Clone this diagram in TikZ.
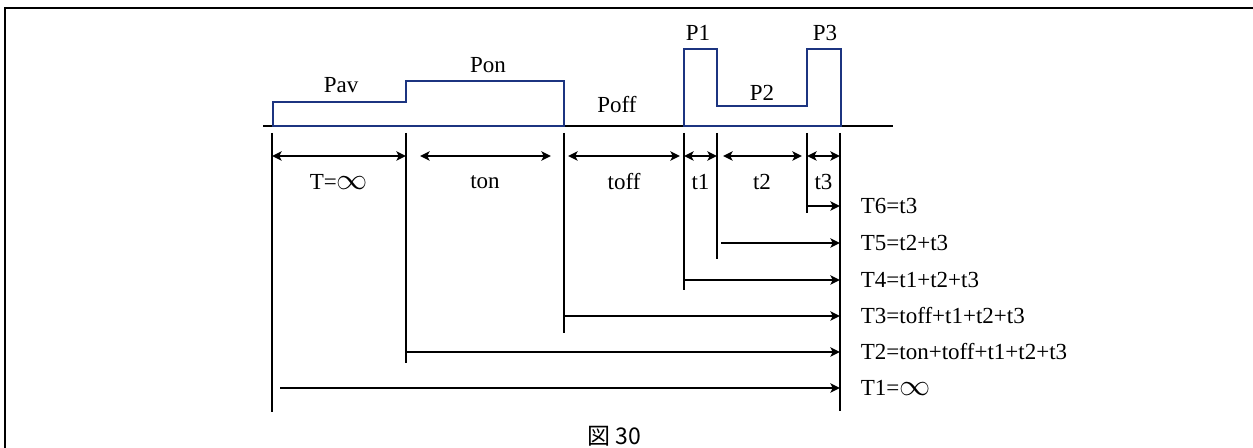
\documentclass[tikz,border=0pt]{standalone}
\usepackage{fontspec}
\usepackage{graphicx}
\setmainfont{Liberation Serif}
\newfontfamily\cjk{Noto Sans CJK JP}
\usetikzlibrary{arrows.meta}
\definecolor{pulseblue}{RGB}{28,52,128}
\newcommand\infsym{\scalebox{1.3}[1.25]{$\infty$}}

\begin{document}
\begin{tikzpicture}[x=0.5pt, y=-0.5pt,
	line/.style = {line width=0.9pt},
	pulse/.style = {draw=pulseblue, line width=1.3pt, line join=miter},
	dim/.style = {line width=0.9pt, {Stealth[length=4.8pt,width=4.6pt,inset=1.2pt]}-{Stealth[length=4.8pt,width=4.6pt,inset=1.2pt]}},
	span/.style = {line width=0.9pt, -{Stealth[length=4.8pt,width=4.6pt,inset=1.2pt]}},
	lbl/.style = {font=\fontsize{11.5}{13}\selectfont, inner sep=0pt},
	tag/.style = {lbl, anchor=west}]
	\useasboundingbox (0,0) rectangle (1253,448);
	\draw[line width=1.1pt] (5,448) -- (5,8) -- (1253,8);

	\draw[line] (263,126) -- (893,126);
	\draw[pulse] (273,126) -- (273,102) -- (406,102) -- (406,81) -- (564,81) -- (564,126) -- cycle;
	\draw[pulse] (684,126) -- (684,49) -- (717,49) -- (717,106) -- (807,106) -- (807,49) -- (841,49) -- (841,126) -- cycle;

	\node[lbl] (pav) at (341,85) {Pav};
	\node[lbl] (pon) at (488,65) {Pon};
	\node[lbl] (poff) at (617,105) {Poff};
	\node[lbl] (p1) at (698,33) {P1};
	\node[lbl] (p2) at (762,93) {P2};
	\node[lbl] (p3) at (825,33) {P3};

	\foreach \n/\x/\y in {a/272/412, b/406/363, c/564/333, d/684/290, e/717/259, f/807/213, g/840/411} {
		\coordinate (\n) at (\x,133);
		\coordinate (\n end) at (\x,\y);
		\draw[line] (\n) -- (\n end);
	}

	\coordinate (dimrow) at (0,156);
	\foreach \p/\q/\s/\e/\t in {a/b/0pt/0pt/T=\infsym, b/c/7pt/6.5pt/ton, c/d/2pt/2pt/toff, d/e/0pt/0pt/t1, e/f/3pt/2.5pt/t2, f/g/0pt/0pt/t3} {
		\draw[dim, shorten <=\s, shorten >=\e] (\p |- dimrow) -- (\q |- dimrow)
			node[lbl, midway, yshift=-13pt] {\t};
	}

	\foreach \p/\y/\s/\t in {f/206/0pt/T6=t3, e/243/2pt/T5=t2+t3, d/280/0pt/T4=t1+t2+t3, c/316/0pt/T3=toff+t1+t2+t3, b/352/0pt/T2=ton+toff+t1+t2+t3, a/388/4pt/T1=\infsym} {
		\coordinate (row) at (0,\y);
		\draw[span, shorten <=\s] (\p |- row) -- (g |- row)
			node[tag, xshift=10pt] {\t};
	}

	\node[font=\cjk\fontsize{11.5}{13}\selectfont] (caption) at (614,436) {図 30};
\end{tikzpicture}
\end{document}
